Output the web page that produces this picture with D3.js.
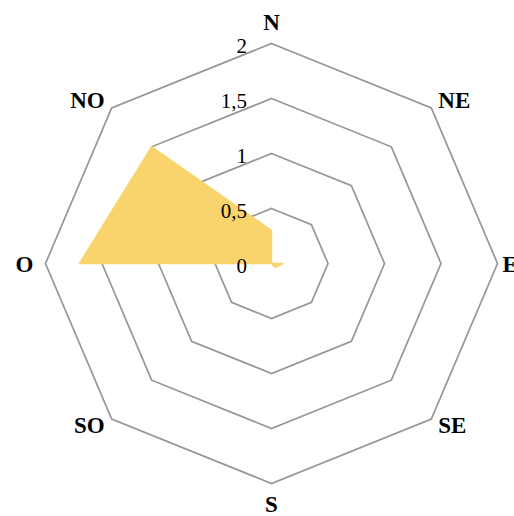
<!DOCTYPE html>
<html>
<head>
<meta charset="utf-8">
<script src="https://cdn.jsdelivr.net/npm/d3@7"></script>
<style>
  html, body { margin: 0; padding: 0; background: #fff; }
  svg { display: block; }
</style>
</head>
<body>
<svg id="chart" width="514" height="516"></svg>
<script>
const directions = ["N", "NE", "E", "SE", "S", "SO", "O", "NO"];
const values = [0.3, 0, 0.1, 0.05, 0, 0, 1.7, 1.5];
const tickValues = [0, 0.5, 1, 1.5, 2];
const tickLabels = ["0", "0,5", "1", "1,5", "2"];

const svg = d3.select("#chart");
const cx = 271.5, cy = 263.5;
const rx = d3.scaleLinear().domain([0, 2]).range([0, 226]);
const ry = d3.scaleLinear().domain([0, 2]).range([0, 220]);
const angle = d3.scaleLinear().domain([0, directions.length]).range([0, 2 * Math.PI]);

function pt(i, v) {
  const a = angle(i);
  return [cx + Math.sin(a) * rx(v), cy - Math.cos(a) * ry(v)];
}

const line = d3.line().curve(d3.curveLinearClosed);

// grid rings
svg.append("g").selectAll("path")
  .data(tickValues.filter(t => t > 0))
  .join("path")
  .attr("d", t => line(directions.map((d, i) => pt(i, t))))
  .attr("fill", "none")
  .attr("stroke", "#969696")
  .attr("stroke-width", 1.7);

// data area
svg.append("path")
  .attr("d", line(values.map((v, i) => pt(i, v))))
  .attr("fill", "#f9d46c")
  .attr("stroke", "#f9d46c")
  .attr("stroke-width", 1.5)
  .attr("stroke-linejoin", "round");

// tick labels
svg.append("g").selectAll("text")
  .data(tickValues)
  .join("text")
  .attr("x", cx - 24.5)
  .attr("y", t => cy - ry(t) + 2)
  .attr("text-anchor", "end")
  .attr("dominant-baseline", "central")
  .attr("font-family", "Liberation Serif, Times New Roman, serif")
  .attr("font-size", 21)
  .attr("fill", "#000")
  .text((t, i) => tickLabels[i]);

// category labels
svg.append("g").selectAll("text")
  .data(directions)
  .join("text")
  .each(function(d, i) {
    const a = angle(i);
    const [vx, vy] = pt(i, 2);
    const s = Math.round(Math.sin(a) * 1000) / 1000;
    const c = Math.round(Math.cos(a) * 1000) / 1000;
    let x = vx, y = vy, anchor = "middle";
    if (s === 0) {
      y = vy - c * 21;
    } else if (c === 0) {
      x = vx + (s > 0 ? 5 : -12);
      y = vy + 1;
      anchor = s > 0 ? "start" : "end";
    } else {
      x = vx + (s > 0 ? 7 : -7);
      y = vy + (c > 0 ? -7 : 6);
      anchor = s > 0 ? "start" : "end";
    }
    d3.select(this)
      .attr("x", x)
      .attr("y", y)
      .attr("text-anchor", anchor)
      .attr("dominant-baseline", "central");
  })
  .attr("font-family", "Liberation Serif, Times New Roman, serif")
  .attr("font-weight", "bold")
  .attr("font-size", 23)
  .attr("fill", "#000")
  .text(d => d);
</script>
</body>
</html>
